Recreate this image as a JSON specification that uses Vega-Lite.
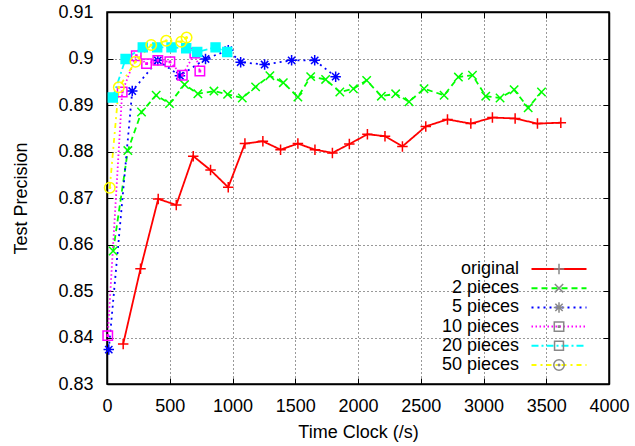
{
  "$schema": "https://vega.github.io/schema/vega-lite/v6.json",
  "width": 502,
  "height": 372,
  "autosize": {"type": "none"},
  "padding": {"left": 107, "top": 12, "right": 26, "bottom": 62},
  "background": "white",
  "config": {
    "font": "Liberation Sans",
    "view": {"stroke": "#000", "strokeWidth": 1.5},
    "axis": {
      "domainColor": "#000", "domainWidth": 1.5, "tickColor": "#000", "tickWidth": 1,
      "labelColor": "#000", "titleColor": "#000", "labelFontSize": 18, "titleFontSize": 18,
      "titleFontWeight": "normal", "labelFont": "Liberation Sans", "titleFont": "Liberation Sans"
    },
    "legend": {"labelFont": "Liberation Sans"}
  },
  "data": {
    "values": [
      {"s": "original", "t": 129, "p": 0.8386},
      {"s": "original", "t": 267, "p": 0.8548},
      {"s": "original", "t": 408, "p": 0.8698},
      {"s": "original", "t": 552, "p": 0.8685},
      {"s": "original", "t": 687, "p": 0.8790},
      {"s": "original", "t": 825, "p": 0.8760},
      {"s": "original", "t": 966, "p": 0.8723},
      {"s": "original", "t": 1099, "p": 0.8817},
      {"s": "original", "t": 1242, "p": 0.8822},
      {"s": "original", "t": 1383, "p": 0.8804},
      {"s": "original", "t": 1521, "p": 0.8817},
      {"s": "original", "t": 1657, "p": 0.8804},
      {"s": "original", "t": 1796, "p": 0.8797},
      {"s": "original", "t": 1931, "p": 0.8816},
      {"s": "original", "t": 2075, "p": 0.8837},
      {"s": "original", "t": 2215, "p": 0.8833},
      {"s": "original", "t": 2354, "p": 0.8811},
      {"s": "original", "t": 2540, "p": 0.8854},
      {"s": "original", "t": 2713, "p": 0.8869},
      {"s": "original", "t": 2899, "p": 0.8860},
      {"s": "original", "t": 3071, "p": 0.8873},
      {"s": "original", "t": 3252, "p": 0.8871},
      {"s": "original", "t": 3430, "p": 0.8860},
      {"s": "original", "t": 3616, "p": 0.8862},
      {"s": "2 pieces", "t": 49, "p": 0.8586},
      {"s": "2 pieces", "t": 166, "p": 0.8802},
      {"s": "2 pieces", "t": 275, "p": 0.8885},
      {"s": "2 pieces", "t": 392, "p": 0.8921},
      {"s": "2 pieces", "t": 498, "p": 0.8903},
      {"s": "2 pieces", "t": 618, "p": 0.8944},
      {"s": "2 pieces", "t": 724, "p": 0.8924},
      {"s": "2 pieces", "t": 852, "p": 0.8930},
      {"s": "2 pieces", "t": 961, "p": 0.8923},
      {"s": "2 pieces", "t": 1078, "p": 0.8915},
      {"s": "2 pieces", "t": 1184, "p": 0.8939},
      {"s": "2 pieces", "t": 1298, "p": 0.8963},
      {"s": "2 pieces", "t": 1405, "p": 0.8948},
      {"s": "2 pieces", "t": 1521, "p": 0.8917},
      {"s": "2 pieces", "t": 1623, "p": 0.8961},
      {"s": "2 pieces", "t": 1742, "p": 0.8955},
      {"s": "2 pieces", "t": 1855, "p": 0.8928},
      {"s": "2 pieces", "t": 1963, "p": 0.8935},
      {"s": "2 pieces", "t": 2069, "p": 0.8953},
      {"s": "2 pieces", "t": 2186, "p": 0.8919},
      {"s": "2 pieces", "t": 2300, "p": 0.8924},
      {"s": "2 pieces", "t": 2407, "p": 0.8907},
      {"s": "2 pieces", "t": 2526, "p": 0.8935},
      {"s": "2 pieces", "t": 2686, "p": 0.8921},
      {"s": "2 pieces", "t": 2800, "p": 0.8960},
      {"s": "2 pieces", "t": 2912, "p": 0.8964},
      {"s": "2 pieces", "t": 3018, "p": 0.8919},
      {"s": "2 pieces", "t": 3132, "p": 0.8915},
      {"s": "2 pieces", "t": 3244, "p": 0.8933},
      {"s": "2 pieces", "t": 3356, "p": 0.8894},
      {"s": "2 pieces", "t": 3462, "p": 0.8928},
      {"s": "5 pieces", "t": 14, "p": 0.8374},
      {"s": "5 pieces", "t": 201, "p": 0.8930},
      {"s": "5 pieces", "t": 405, "p": 0.8996},
      {"s": "5 pieces", "t": 581, "p": 0.8963},
      {"s": "5 pieces", "t": 785, "p": 0.8999},
      {"s": "5 pieces", "t": 966, "p": 0.9018},
      {"s": "5 pieces", "t": 1065, "p": 0.8992},
      {"s": "5 pieces", "t": 1256, "p": 0.8987},
      {"s": "5 pieces", "t": 1471, "p": 0.8996},
      {"s": "5 pieces", "t": 1655, "p": 0.8996},
      {"s": "5 pieces", "t": 1822, "p": 0.8961},
      {"s": "10 pieces", "t": 6, "p": 0.8404},
      {"s": "10 pieces", "t": 121, "p": 0.8928},
      {"s": "10 pieces", "t": 233, "p": 0.9006},
      {"s": "10 pieces", "t": 315, "p": 0.8989},
      {"s": "10 pieces", "t": 405, "p": 0.8996},
      {"s": "10 pieces", "t": 501, "p": 0.8993},
      {"s": "10 pieces", "t": 600, "p": 0.8964},
      {"s": "10 pieces", "t": 700, "p": 0.9012},
      {"s": "10 pieces", "t": 740, "p": 0.8973},
      {"s": "20 pieces", "t": 46, "p": 0.8916},
      {"s": "20 pieces", "t": 148, "p": 0.8999},
      {"s": "20 pieces", "t": 285, "p": 0.9024},
      {"s": "20 pieces", "t": 400, "p": 0.9024},
      {"s": "20 pieces", "t": 514, "p": 0.9024},
      {"s": "20 pieces", "t": 631, "p": 0.9022},
      {"s": "20 pieces", "t": 719, "p": 0.9014},
      {"s": "20 pieces", "t": 865, "p": 0.9024},
      {"s": "20 pieces", "t": 958, "p": 0.9014},
      {"s": "50 pieces", "t": 22, "p": 0.8722},
      {"s": "50 pieces", "t": 94, "p": 0.8938},
      {"s": "50 pieces", "t": 227, "p": 0.8993},
      {"s": "50 pieces", "t": 352, "p": 0.9029},
      {"s": "50 pieces", "t": 472, "p": 0.9038},
      {"s": "50 pieces", "t": 592, "p": 0.9036},
      {"s": "50 pieces", "t": 634, "p": 0.9045}
    ]
  },
  "resolve": {"axis": {"x": "independent", "y": "independent"}},
  "layer": [
    {
      "mark": {"type": "line", "strokeWidth": 1.8},
      "encoding": {
        "x": {
          "field": "t", "type": "quantitative",
          "scale": {"domain": [0, 4000], "nice": false},
          "axis": {"orient": "bottom", "values": [0, 500, 1000, 1500, 2000, 2500, 3000, 3500, 4000], "format": "d",
                   "grid": true, "gridDash": [1, 3], "gridColor": "#000", "gridOpacity": 0.8,
                   "tickSize": -6, "labelPadding": 19, "labelFlush": false, "title": "Time Clock (/s)", "titlePadding": 8}
        },
        "y": {
          "field": "p", "type": "quantitative",
          "scale": {"domain": [0.83, 0.91], "nice": false, "zero": false},
          "axis": {"orient": "left", "values": [0.83, 0.84, 0.85, 0.86, 0.87, 0.88, 0.89, 0.9, 0.91], "format": ".2~f",
                   "grid": true, "gridDash": [1, 3], "gridColor": "#000", "gridOpacity": 0.8,
                   "tickSize": -6, "labelPadding": 20, "labelFlush": false, "title": "Test Precision", "titlePadding": 27}
        },
        "color": {
          "field": "s", "type": "nominal",
          "scale": {"domain": ["original", "2 pieces", "5 pieces", "10 pieces", "20 pieces", "50 pieces"],
                    "range": ["#ff0000", "#00ff00", "#0000ff", "#ff00ff", "#00ffff", "#ffff00"]},
          "legend": {"orient": "none", "legendX": 443, "legendY": 248, "title": null, "padding": 0, "rowPadding": 1.2,
                     "symbolType": "M-5.5,0H5.5", "symbolSize": 100, "symbolStrokeWidth": 2, "symbolFillColor": "transparent",
                     "labelAlign": "right", "labelOffset": -49, "labelFontSize": 18, "labelColor": "#000", "labelLimit": 200,
                     "symbolOpacity": 1}
        },
        "strokeDash": {
          "field": "s", "type": "nominal",
          "scale": {"domain": ["original", "2 pieces", "5 pieces", "10 pieces", "20 pieces", "50 pieces"],
                    "range": [[1, 0], [6, 4], [2, 4], [1.5, 2.5], [7, 3, 2, 3], [5, 4, 2, 4]]},
          "legend": {"orient": "none", "legendX": 443, "legendY": 248, "title": null, "padding": 0, "rowPadding": 1.2,
                     "symbolType": "M-5.5,0H5.5", "symbolSize": 100, "symbolStrokeWidth": 2, "symbolFillColor": "transparent",
                     "labelAlign": "right", "labelOffset": -49, "labelFontSize": 18, "labelColor": "#000", "labelLimit": 200,
                     "symbolOpacity": 1}
        }
      }
    },
    {
      "mark": {"type": "point", "filled": false, "size": 110, "strokeWidth": 1.5, "opacity": 1},
      "encoding": {
        "x": {
          "field": "t", "type": "quantitative",
          "axis": {"orient": "top", "values": [500, 1000, 1500, 2000, 2500, 3000, 3500], "labels": false, "grid": false,
                   "tickSize": -6, "title": null}
        },
        "y": {
          "field": "p", "type": "quantitative",
          "axis": {"orient": "right", "values": [0.84, 0.85, 0.86, 0.87, 0.88, 0.89, 0.9], "labels": false, "grid": false,
                   "tickSize": -6, "title": null}
        },
        "stroke": {
          "field": "s", "type": "nominal",
          "sort": ["original", "2 pieces", "5 pieces", "10 pieces", "20 pieces", "50 pieces"],
          "scale": {"range": ["#ff0000", "#00ff00", "#0000ff", "#ff00ff", "#00ffff", "#ffff00"]},
          "legend": {"orient": "none", "legendX": 443, "legendY": 248, "title": null, "padding": 0, "rowPadding": 1.2,
                     "symbolType": "M0,0L0,0", "symbolSize": 110, "symbolStrokeWidth": 1.5, "symbolFillColor": "transparent",
                     "labelFontSize": 18, "labelColor": "transparent", "labelLimit": 200, "symbolOpacity": 1}
        },
        "shape": {
          "field": "s", "type": "nominal",
          "sort": ["original", "2 pieces", "5 pieces", "10 pieces", "20 pieces", "50 pieces"],
          "scale": {"range": [
            "M-1,0H1M0,-1V1",
            "M-0.8,-0.8L0.8,0.8M-0.8,0.8L0.8,-0.8",
            "M-1,0H1M0,-1V1M-0.7,-0.7L0.7,0.7M-0.7,0.7L0.7,-0.7",
            "M-0.9,-0.9H0.9V0.9H-0.9ZM-0.12,-0.12H0.12V0.12H-0.12Z",
            "M-0.85,-0.85H0.85V0.85H-0.85Z",
            "M1,0A1,1 0 1,1 -1,0A1,1 0 1,1 1,0ZM0.15,0A0.15,0.15 0 1,1 -0.15,0A0.15,0.15 0 1,1 0.15,0Z"
          ]},
          "legend": {"orient": "none", "legendX": 443, "legendY": 248, "title": null, "padding": 0, "rowPadding": 1.2,
                     "symbolSize": 110, "symbolStrokeWidth": 1.5, "symbolFillColor": "transparent",
                     "labelFontSize": 18, "labelColor": "transparent", "labelLimit": 200, "symbolOpacity": 1}
        },
        "fill": {
          "field": "s", "type": "nominal",
          "scale": {"domain": ["original", "2 pieces", "5 pieces", "10 pieces", "20 pieces", "50 pieces"],
                    "range": ["transparent", "transparent", "transparent", "transparent", "#00ffff", "transparent"]},
          "legend": null
        }
      }
    }
  ]
}
